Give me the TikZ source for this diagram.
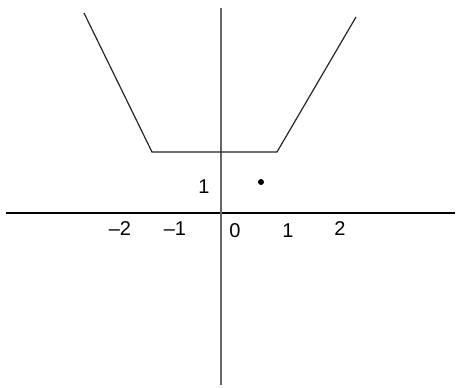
\documentclass[tikz,border=0pt]{standalone}
\usepackage{fontspec}
\setmainfont{Liberation Sans}
\begin{document}
\begin{tikzpicture}[
  x=0.5pt,y=0.5pt,
  axis/.style={line width=0.6pt,draw=black!60},
  graph/.style={line width=0.6pt,draw=black!85,line join=miter},
  lbl/.style={inner sep=0pt,font=\fontsize{10}{12}\selectfont},
  pt/.style={circle,fill=black,minimum size=3pt,inner sep=0pt}
]
\useasboundingbox (-222,-174) rectangle (238,213);
% axes
\coordinate (xl) at (-216,0);
\coordinate (xr) at (233,0);
\coordinate (yb) at (-1,-172);
\coordinate (yt) at (-1,205);
\draw[axis,draw=black] (xl)--(xr);
\draw[axis] (yb)--(yt);
% graph
\coordinate (a1) at (-138,200);
\coordinate (a2) at (-70,61);
\coordinate (a3) at (55,61);
\coordinate (a4) at (134,196);
\draw[graph] (a1)--(a2)--(a3)--(a4);
\node[pt] (p) at (39,31) {};
% labels
\node[lbl] (ly1) at (-18,26) {1};
\node[lbl] (lm2) at (-102,-16) {\textendash2};
\node[lbl] (lm1) at (-47,-16) {\textendash1};
\node[lbl] (l0) at (13,-18) {0};
\node[lbl] (l1) at (66,-18) {1};
\node[lbl] (l2) at (118,-16) {2};
\end{tikzpicture}
\end{document}
